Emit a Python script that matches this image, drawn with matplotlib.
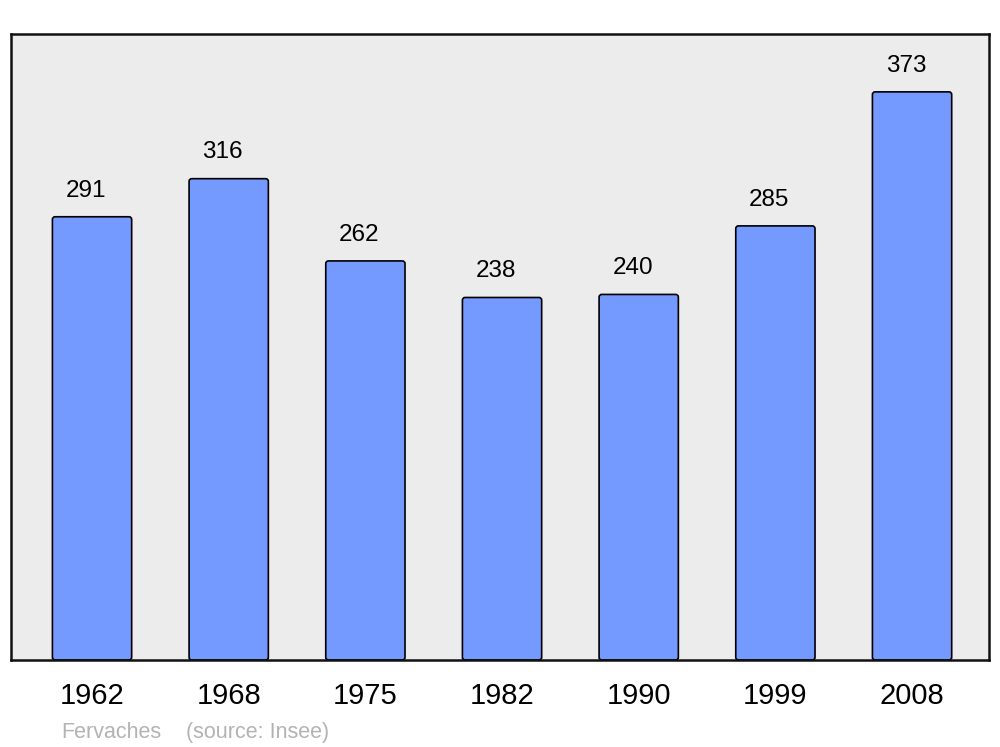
import matplotlib
matplotlib.use('Agg')
from matplotlib import pyplot as plt
from matplotlib.patches import FancyBboxPatch

years = ['1962', '1968', '1975', '1982', '1990', '1999', '2008']
population = [291, 316, 262, 238, 240, 285, 373]

plt.rcParams['font.family'] = ['Liberation Sans', 'DejaVu Sans']

fig = plt.figure(figsize=(10, 7.47), dpi=100)
ax = fig.add_axes([0.011, 0.1165, 0.978, 0.838])
ax.set_facecolor('#ececec')

x = list(range(len(years)))
bars = ax.bar(x, population, width=0.58, color='#7499ff', edgecolor='black', linewidth=1.2)

# swap plain bars for slightly rounded ones
for b in bars:
    b.set_visible(False)
    r = FancyBboxPatch((b.get_x(), b.get_y()), b.get_width(), b.get_height(),
                       boxstyle='round,pad=0,rounding_size=0.02', mutation_aspect=90,
                       facecolor='#7499ff', edgecolor='black', linewidth=1.2)
    ax.add_patch(r)

for xi, v in zip(x, population):
    ax.text(xi - 0.044, v + 17.2, str(v), ha='center', va='center', fontsize=17.5)

ax.set_xlim(-0.593, 6.563)
ax.set_ylim(0, 411)
ax.set_xticks(x)
ax.set_xticklabels(years, fontsize=21)
ax.tick_params(axis='x', length=0, pad=16)
ax.set_yticks([])
for s in ax.spines.values():
    s.set_linewidth(1.8)
    s.set_color('#111111')

fig.text(0.061, 0.0188, 'Fervaches', color='#b3b3b3', fontsize=15.5, va='center')
fig.text(0.186, 0.0188, '(source: Insee)', color='#b3b3b3', fontsize=15.5, va='center')

fig.savefig('out.png', dpi=100)
